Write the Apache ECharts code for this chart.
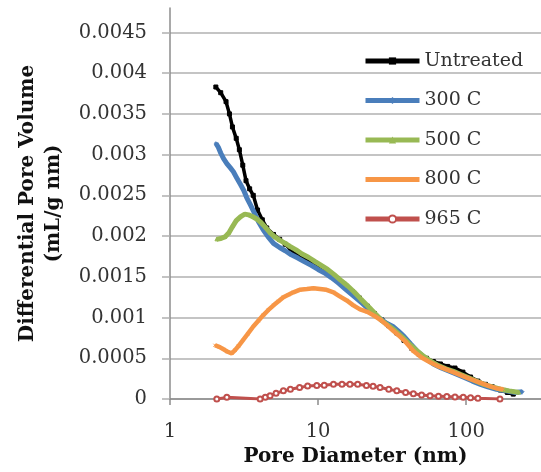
<!DOCTYPE html>
<html><head><meta charset="utf-8">
<script src="https://cdn.jsdelivr.net/npm/echarts@6/dist/echarts.min.js"></script>
<style>html,body{margin:0;padding:0;background:#fff}#c{width:541px;height:472px}</style>
</head><body><div id="c"></div>
<script>
// Tick labels
var xTicks = [1, 10, 100];
var yTicks = [0, 0.0005, 0.001, 0.0015, 0.002, 0.0025, 0.003, 0.0035, 0.004, 0.0045];
var seriesNames = ['Untreated', '300 C', '500 C', '800 C', '965 C'];

// [pore diameter (nm), differential pore volume (mL/g nm)]
var untreated = [[2.04,0.00383],[2.2,0.00376],[2.39,0.00365],[2.52,0.00350],[2.64,0.00334],[2.8,0.00320],[2.94,0.00306],[3.1,0.00287],[3.26,0.00268],[3.45,0.00258],[3.65,0.00250],[3.9,0.00232],[4.2,0.00220],[4.5,0.00210],[5.0,0.00202],[5.5,0.00196],[6.0,0.00190],[6.5,0.00184],[7.0,0.00179],[7.5,0.00176],[8.2,0.00172],[9.0,0.00168],[10,0.00164],[11,0.00160],[12,0.00155],[13.5,0.00148],[15,0.00141],[17,0.00132],[19,0.00124],[21.5,0.00114],[24,0.00105],[27,0.00097],[30,0.00090],[34,0.00081],[38,0.00072],[43,0.00062],[48,0.00055],[54,0.00050],[60,0.00046],[67,0.00043],[75,0.00040],[84,0.00038],[95,0.00033],[107,0.00027],[120,0.00022],[135,0.00018],[150,0.00015],[170,0.00011],[190,0.00008],[208,0.00006]];
var c300 = [[2.04,0.00314],[2.12,0.00309],[2.2,0.00302],[2.3,0.00295],[2.42,0.00289],[2.55,0.00284],[2.68,0.00279],[2.85,0.00270],[3.0,0.00263],[3.15,0.00256],[3.3,0.00247],[3.5,0.00238],[3.7,0.00229],[3.95,0.00218],[4.25,0.00208],[4.6,0.00199],[5.0,0.00191],[5.5,0.00186],[6.0,0.00182],[6.6,0.00177],[7.3,0.00173],[8.0,0.00169],[9.0,0.00164],[10,0.00159],[11,0.00155],[12.3,0.00149],[13.8,0.00142],[15.5,0.00134],[17.5,0.00126],[20,0.00117],[23,0.00107],[26,0.00099],[29,0.00093],[32,0.00089],[35,0.00083],[38,0.00077],[42,0.00068],[47,0.00058],[53,0.00050],[60,0.00043],[68,0.00038],[77,0.00034],[87,0.00030],[98,0.00026],[110,0.00022],[125,0.00018],[140,0.00015],[160,0.00012],[185,0.00010],[215,0.00008],[240,0.00009]];
var c500 = [[2.06,0.00196],[2.2,0.00197],[2.35,0.00199],[2.5,0.00204],[2.65,0.00212],[2.8,0.00219],[3.0,0.00224],[3.2,0.00227],[3.4,0.00226],[3.6,0.00224],[3.85,0.00221],[4.1,0.00217],[4.4,0.00211],[4.75,0.00204],[5.1,0.00199],[5.5,0.00195],[6.0,0.00191],[6.5,0.00187],[7.1,0.00183],[7.8,0.00178],[8.6,0.00174],[9.5,0.00169],[10.5,0.00164],[11.6,0.00159],[12.8,0.00153],[14.2,0.00146],[15.8,0.00139],[17.6,0.00131],[19.6,0.00122],[22,0.00113],[24.5,0.00104],[27,0.00096],[30,0.00090],[33,0.00084],[37,0.00076],[41,0.00068],[46,0.00060],[52,0.00052],[58,0.00046],[65,0.00041],[73,0.00037],[82,0.00034],[92,0.00030],[104,0.00026],[117,0.00022],[132,0.00018],[150,0.00015],[170,0.00012],[195,0.00010],[228,0.00008]];
var c800 = [[2.01,0.00066],[2.15,0.00064],[2.3,0.00061],[2.45,0.00058],[2.61,0.00056],[2.75,0.00060],[2.9,0.00065],[3.13,0.00073],[3.35,0.00080],[3.65,0.00089],[3.95,0.00096],[4.27,0.00103],[4.6,0.00109],[5.0,0.00115],[5.4,0.00120],[5.83,0.00125],[6.3,0.00128],[6.81,0.00131],[7.5,0.00134],[8.4,0.00135],[9.3,0.00136],[10.3,0.00135],[11.4,0.00134],[12.7,0.00131],[14,0.00126],[15.6,0.00121],[17.3,0.00115],[19.2,0.00110],[21.5,0.00107],[24,0.00102],[26.5,0.00097],[29,0.00091],[32,0.00084],[35,0.00078],[39,0.00070],[44,0.00059],[50,0.00051],[57,0.00045],[65,0.00040],[74,0.00036],[84,0.00032],[95,0.00028],[108,0.00024],[124,0.00020],[142,0.00016],[161,0.00013],[178,0.00012]];
var c965 = [[2.07,0.00000],[2.42,0.00002],[4.06,0.00000],[4.4,0.00002],[4.74,0.00004],[5.2,0.00007],[5.83,0.00010],[6.5,0.00012],[7.5,0.00014],[8.5,0.00016],[9.8,0.000167],[11,0.00017],[12.7,0.00018],[14.5,0.00018],[16.4,0.00018],[18.5,0.00018],[21.2,0.000167],[23.5,0.000155],[26.2,0.00014],[30,0.00012],[34,0.00010],[39,0.00008],[44,0.000065],[50,0.00005],[57,0.00004],[65,0.000035],[74,0.00003],[84,0.000025],[95.5,0.00002],[107,0.000015],[120,0.00001],[169,0.00000]];

var chart = echarts.init(document.getElementById('c'));
var serif = 'DejaVu Serif';
var gridColor = '#b0b0b0';
function mk(name, data, color, width, symbol, size, z) {
  return {
    name: name, type: 'line', data: data, z: z,
    lineStyle: { color: color, width: width },
    itemStyle: { color: color, borderColor: color },
    symbol: symbol, symbolSize: size, showSymbol: true,
    emphasis: { disabled: true }, animation: false
  };
}
chart.setOption({
  animation: false,
  backgroundColor: '#fff',
  grid: { left: 170, right: 0, top: 8, bottom: 69 },
  legend: {
    orient: 'vertical', left: 358, top: 46,
    itemWidth: 54, itemHeight: 9, itemGap: 19.5,
    data: seriesNames,
    lineStyle: { width: 5 },
    textStyle: { fontFamily: serif, fontSize: 19, color: '#333', lineHeight: 20 }
  },
  xAxis: {
    type: 'log', logBase: 10, min: 1, max: 320,
    name: 'Pore Diameter (nm)', nameLocation: 'middle', nameGap: 48,
    nameTextStyle: { fontFamily: serif, fontSize: 20, fontWeight: 'bold', color: '#111' },
    axisLine: { show: true, lineStyle: { color: '#8c8c8c', width: 1.5 } },
    axisTick: { show: true, length: 6, inside: false, customValues: xTicks, lineStyle: { color: '#8c8c8c', width: 1.5 } },
    axisLabel: { customValues: xTicks, margin: 23, fontFamily: serif, fontSize: 19.5, color: '#333',
      formatter: function (v) { return String(v); } },
    splitLine: { show: false }, minorTick: { show: false }
  },
  yAxis: {
    type: 'value', min: 0, max: 0.0048,
    name: 'Differential Pore Volume\n(mL/g nm)', nameLocation: 'middle', nameGap: 103, nameRotate: 90,
    nameTextStyle: { fontFamily: serif, fontSize: 20, fontWeight: 'bold', color: '#111', lineHeight: 26 },
    axisLine: { show: true, lineStyle: { color: '#8c8c8c', width: 1.5 } },
    axisTick: { show: true, length: 8, customValues: yTicks, lineStyle: { color: gridColor, width: 1.5 } },
    axisLabel: { customValues: yTicks, margin: 23, fontFamily: serif, fontSize: 19.5, color: '#333',
      formatter: function (v) { return String(+v.toPrecision(4)); } },
    splitLine: { show: true, lineStyle: { color: gridColor, width: 1.5 } }
  },
  series: [
    mk('Untreated', untreated, '#000000', 3.5, 'rect', 4, 2),
    mk('300 C', c300, '#4a7ebb', 5, 'diamond', 3, 3),
    mk('500 C', c500, '#98b954', 5, 'triangle', 3, 4),
    mk('800 C', c800, '#f79646', 4.5, 'path://M0,0L10,10M10,0L0,10', 3, 5),
    mk('965 C', c965, '#c0504d', 3, 'emptyCircle', 5, 6)
  ]
});
</script></body></html>
